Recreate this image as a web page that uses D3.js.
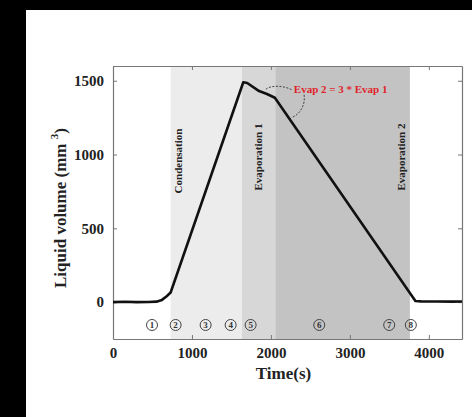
<!DOCTYPE html>
<html>
<head>
<meta charset="utf-8">
<script src="https://cdn.jsdelivr.net/npm/d3@7"></script>
<style>
  body { margin: 0; background: #000; }
  svg { display: block; }
</style>
</head>
<body>
<div id="chart"></div>
<script>
const width = 472, height = 417;
const margin = ({top: 66, right: 10, bottom: 78, left: 113});

// liquid volume curve (time s, volume mm^3)
const times  = [0, 150, 300, 450, 550, 620, 680, 730, 1650, 1700, 1850, 1950, 2050, 3830, 3900, 4100, 4300, 4420];
const volume = [0, 2, 0, 1, 3, 15, 40, 65, 1490, 1485, 1430, 1410, 1385, 8, 5, 4, 3, 4];

// shaded phases
const phaseNames = ["Condensation", "Evaporation 1", "Evaporation 2"];
const phaseStart = [730, 1633, 2055];
const phaseEnd   = [1633, 2055, 3760];
const phaseFill  = ["#ececec", "#d7d7d7", "#c3c3c3"];

// circled step markers
const stepLabels = ["1", "2", "3", "4", "5", "6", "7", "8"];
const stepTimes  = [494, 793, 1173, 1490, 1743, 2612, 3498, 3772];
const stepLevel = -155;

const xTicks = [0, 1000, 2000, 3000, 4000];
const yTicks = [0, 500, 1000, 1500];

const svg = d3.select("#chart").append("svg")
    .attr("width", width)
    .attr("height", height);

// black photo border, white page
svg.append("rect").attr("width", width).attr("height", height).attr("fill", "#000");
svg.append("rect").attr("x", 26).attr("y", 10)
    .attr("width", width - 26).attr("height", height - 10).attr("fill", "#fff");

const x = d3.scaleLinear().domain([0, 4420]).range([margin.left, width - margin.right]);
const y = d3.scaleLinear().domain([-250, 1600]).range([height - margin.bottom, margin.top]);

const font = "'Liberation Serif', 'Times New Roman', serif";

// phase bands
svg.append("g").selectAll("rect")
  .data(phaseNames)
  .join("rect")
    .attr("x", (d, i) => x(phaseStart[i]))
    .attr("width", (d, i) => x(phaseEnd[i]) - x(phaseStart[i]))
    .attr("y", y(1600))
    .attr("height", y(-250) - y(1600))
    .attr("fill", (d, i) => phaseFill[i]);

// phase labels, rotated
const labelX = [x(phaseStart[0]) + 8, x(phaseStart[1]) + 16, x(phaseEnd[2]) - 9];
svg.append("g").selectAll("text")
  .data(phaseNames)
  .join("text")
    .attr("transform", (d, i) => `translate(${labelX[i]},${i == 0 ? 161 : 157}) rotate(-90)`)
    .attr("text-anchor", "middle")
    .attr("dy", "0.35em")
    .attr("font-family", font)
    .attr("font-weight", "bold")
    .attr("font-size", 11)
    .attr("fill", "#222")
    .text(d => d);

// axes with inward ticks on all four sides
const axisColor = "#777";
function styleAxis(g) {
  g.select(".domain").attr("stroke", axisColor).attr("stroke-width", 1.2);
  g.selectAll(".tick line").attr("stroke", axisColor);
  g.selectAll(".tick text")
    .attr("font-family", font)
    .attr("font-weight", "bold")
    .attr("font-size", 15)
    .attr("fill", "#222");
}

svg.append("g")
    .attr("transform", `translate(0,${height - margin.bottom})`)
    .call(d3.axisBottom(x).tickValues(xTicks).tickSize(-4).tickSizeOuter(0).tickPadding(8).tickFormat(d3.format("d")))
    .call(styleAxis);

svg.append("g")
    .attr("transform", `translate(0,${margin.top})`)
    .call(d3.axisTop(x).tickValues(xTicks).tickSize(-4).tickSizeOuter(0).tickFormat(""))
    .call(styleAxis);

svg.append("g")
    .attr("transform", `translate(${margin.left},0)`)
    .call(d3.axisLeft(y).tickValues(yTicks).tickSize(-4).tickSizeOuter(0).tickPadding(9).tickFormat(d3.format("d")))
    .call(styleAxis);

svg.append("g")
    .attr("transform", `translate(${width - margin.right},0)`)
    .call(d3.axisRight(y).tickValues(yTicks).tickSize(-4).tickSizeOuter(0).tickFormat(""))
    .call(styleAxis);

// the curve
const line = d3.line()
    .x((d, i) => x(times[i]))
    .y(d => y(d));

svg.append("path")
    .datum(volume)
    .attr("fill", "none")
    .attr("stroke", "#111")
    .attr("stroke-width", 2.6)
    .attr("stroke-linejoin", "round")
    .attr("d", line);

// step markers
const steps = svg.append("g").selectAll("g")
  .data(stepLabels)
  .join("g")
    .attr("transform", (d, i) => `translate(${x(stepTimes[i])},${y(stepLevel)})`);

steps.append("circle")
    .attr("r", 5.5)
    .attr("fill", "none")
    .attr("stroke", "#444")
    .attr("stroke-width", 1);

steps.append("text")
    .attr("text-anchor", "middle")
    .attr("dy", "0.35em")
    .attr("font-family", font)
    .attr("font-weight", "bold")
    .attr("font-size", 9)
    .attr("fill", "#333")
    .text(d => d);

// annotation
svg.append("text")
    .attr("x", x(2290))
    .attr("y", y(1440))
    .attr("dy", "0.35em")
    .attr("font-family", font)
    .attr("font-weight", "bold")
    .attr("font-size", 11)
    .attr("fill", "#e0252a")
    .text("Evap 2 = 3 * Evap 1");

const arrows = svg.append("g")
    .attr("fill", "none")
    .attr("stroke", "#333")
    .attr("stroke-width", 0.9)
    .attr("stroke-dasharray", "2,1.5");

arrows.append("path")
    .attr("d", `M${x(2260)},${y(1440)} C${x(2150)},${y(1470)} ${x(1990)},${y(1470)} ${x(1930)},${y(1440)}`);
arrows.append("path")
    .attr("d", `M${x(2420)},${y(1405)} C${x(2440)},${y(1330)} ${x(2360)},${y(1270)} ${x(2260)},${y(1250)}`);

// axis titles
svg.append("text")
    .attr("x", (margin.left + width - margin.right) / 2 - 4)
    .attr("y", 379)
    .attr("text-anchor", "middle")
    .attr("font-family", font)
    .attr("font-weight", "bold")
    .attr("font-size", 17)
    .attr("fill", "#222")
    .text("Time(s)");

const yTitle = svg.append("text")
    .attr("transform", `translate(66,288) rotate(-90)`)
    .attr("text-anchor", "start")
    .attr("font-family", font)
    .attr("font-weight", "bold")
    .attr("font-size", 17)
    .attr("fill", "#222");
yTitle.append("tspan").text("Liquid volume (mm ");
yTitle.append("tspan").attr("dy", -8).attr("font-size", 11).text("3");
yTitle.append("tspan").attr("dy", 8).text(")");
</script>
</body>
</html>
